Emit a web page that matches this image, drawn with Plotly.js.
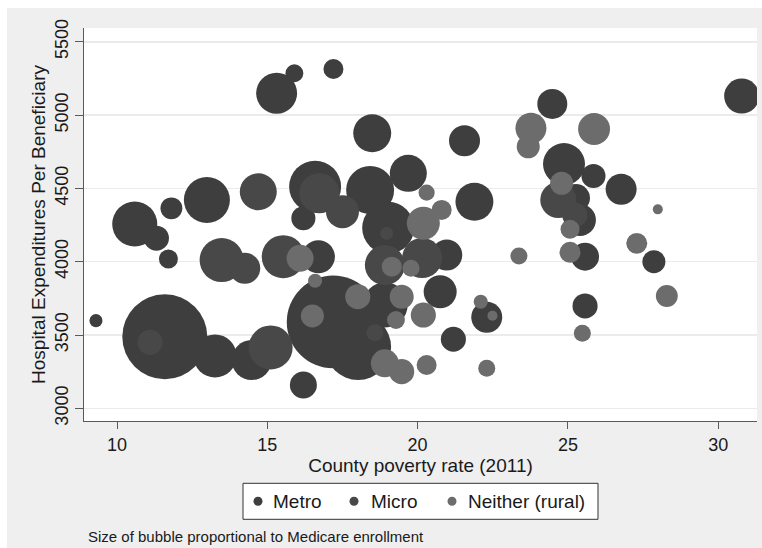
<!DOCTYPE html>
<html>
<head>
<meta charset="utf-8">
<script src="https://cdn.plot.ly/plotly-3.0.1.min.js"></script>
<style>
  html, body { margin: 0; padding: 0; background: #ffffff; }
  #chart { position: absolute; left: 7px; top: 8px; width: 755px; height: 540px; }
</style>
</head>
<body>
<div id="chart"></div>
<script>
// ---- Data ----
// County poverty rate (2011), hospital expenditures per beneficiary, Medicare enrollment (relative, thousands)
const categories = ["Metro", "Micro", "Neither (rural)"];

const metroX = [9.30, 11.59, 10.59, 11.31, 11.81, 11.71, 12.99, 13.26, 14.48, 15.31, 15.90, 17.20, 18.49, 21.56,
  16.59, 16.20, 18.42, 19.69, 21.89, 19.02, 16.70, 17.19, 18.02, 18.92, 16.20, 21.19, 20.75, 20.97, 22.30,
  24.48, 24.87, 25.85, 26.77, 25.40, 25.57, 27.86, 25.57, 30.78, 25.27];
const metroY = [3598, 3488, 4257, 4160, 4364, 4018, 4421, 3357, 3329, 5149, 5285, 5314, 4876, 4825,
  4512, 4296, 4489, 4603, 4409, 4231, 4034, 3589, 3418, 3705, 3159, 3471, 3795, 4046, 3621,
  5076, 4666, 4585, 4494, 4284, 4034, 4000, 3698, 5130, 4434];
const metroEnroll = [17, 723, 203, 63, 48, 36, 212, 185, 160, 168, 32, 40, 144, 96,
  270, 58, 230, 137, 144, 270, 109, 860, 436, 203, 73, 63, 109, 96, 96,
  90, 176, 58, 96, 102, 78, 53, 63, 123, 78];

const microX = [11.10, 15.11, 14.70, 13.48, 14.25, 15.53, 16.73, 17.50, 18.97, 18.91, 20.15, 18.58, 24.68, 25.23];
const microY = [3450, 3415, 4477, 4011, 3955, 4034, 4467, 4341, 4193, 3977, 4025, 3516, 4421, 4319];
const microEnroll = [63, 194, 137, 194, 96, 185, 160, 109, 17, 160, 160, 29, 130, 63];

const ruralX = [16.09, 16.59, 16.50, 18.01, 19.47, 19.28, 20.19, 19.14, 19.78, 20.30, 20.80, 20.19, 18.91, 19.47,
  20.30, 22.30, 22.10, 22.49, 23.77, 23.68, 25.87, 24.79, 25.07, 25.07, 27.99, 27.29, 23.37, 28.29, 25.48];
const ruralY = [4024, 3870, 3630, 3761, 3761, 3602, 3636, 3966, 3955, 4471, 4353, 4262, 3307, 3250,
  3295, 3273, 3727, 3632, 4910, 4784, 4905, 4535, 4221, 4064, 4357, 4125, 4039, 3766, 3512];
const ruralEnroll = [73, 20, 53, 63, 58, 32, 63, 40, 29, 26, 40, 109, 78, 63,
  40, 29, 20, 10, 96, 53, 102, 53, 36, 44, 10, 44, 29, 48, 29];

const xTicks = [10, 15, 20, 25, 30];
const yTicks = [3000, 3500, 4000, 4500, 5000, 5500];

// ---- Styling ----
const colors = ["#3e3e3e", "#484848", "#6c6c6c"];
const FONT = "Liberation Sans, Arial, sans-serif";
const TXT = "#1a1a1a";
const AX = "#5a5a5a";

function bubbleTrace(name, xs, ys, enroll, color) {
  return {
    type: "scatter", mode: "markers", name: name,
    x: xs, y: ys, showlegend: false, hoverinfo: "skip",
    marker: { size: enroll, sizemode: "area", sizeref: 0.2, color: color, opacity: 1, line: { width: 0 } }
  };
}

const traces = [
  bubbleTrace(categories[0], metroX, metroY, metroEnroll, colors[0]),
  bubbleTrace(categories[1], microX, microY, microEnroll, colors[1]),
  bubbleTrace(categories[2], ruralX, ruralY, ruralEnroll, colors[2])
];

// plot area inside the div: left 77, top 20, width 673, height 393
const PL = 77, PT = 20, PW = 673, PH = 393;
const px2x = v => (v - PL) / PW;
const py2y = v => (PT + PH - v) / PH;

// manual legend (box, dots, labels)
const legendDotX = [251, 347, 445];
const legendTextX = [264, 362, 459];
const legendY = py2y(493.3);
const shapes = [{
  type: "rect", xref: "paper", yref: "paper",
  x0: px2x(236), x1: px2x(591), y0: py2y(475.3), y1: py2y(511.3),
  line: { color: "#333333", width: 1 }, fillcolor: "#ffffff", layer: "above"
}];
const annotations = [];
categories.forEach((c, i) => {
  shapes.push({
    type: "circle", xref: "paper", yref: "paper",
    xsizemode: "pixel", ysizemode: "pixel",
    xanchor: px2x(legendDotX[i]), yanchor: legendY,
    x0: -4.5, x1: 4.5, y0: -4.5, y1: 4.5,
    fillcolor: colors[i], line: { width: 0 }, layer: "above"
  });
  annotations.push({
    xref: "paper", yref: "paper", x: px2x(legendTextX[i]), y: legendY,
    xanchor: "left", yanchor: "middle", showarrow: false, text: c,
    font: { family: FONT, size: 19, color: TXT }
  });
});
annotations.push({
  xref: "paper", yref: "paper", x: px2x(79), y: py2y(528),
  xanchor: "left", yanchor: "middle", showarrow: false,
  text: "Size of bubble proportional to Medicare enrollment",
  font: { family: FONT, size: 15, color: TXT }
});

const layout = {
  width: 755, height: 540,
  margin: { l: PL, r: 755 - PL - PW, t: PT, b: 540 - PT - PH, pad: 0 },
  paper_bgcolor: "#efefef", plot_bgcolor: "#ffffff",
  font: { family: FONT, color: TXT },
  showlegend: false,
  xaxis: {
    range: [8.902, 31.29], tickmode: "array", tickvals: xTicks,
    ticks: "outside", ticklen: 7, tickwidth: 1, tickcolor: AX,
    showline: true, linecolor: AX, linewidth: 1, mirror: false,
    showgrid: false, zeroline: false, automargin: false,
    tickfont: { family: FONT, size: 18, color: TXT },
    title: { text: "County poverty rate (2011)", font: { family: FONT, size: 19, color: TXT }, standoff: 3 }
  },
  yaxis: {
    range: [2913.4, 5594], tickmode: "array", tickvals: yTicks, tickangle: -90,
    ticks: "outside", ticklen: 8, tickwidth: 1, tickcolor: AX,
    showline: true, linecolor: AX, linewidth: 1, mirror: false,
    showgrid: true, gridcolor: "#ebebeb", gridwidth: 1.5, zeroline: false, automargin: false,
    tickfont: { family: FONT, size: 18, color: TXT },
    title: { text: "Hospital Expenditures Per Beneficiary", font: { family: FONT, size: 19, color: TXT }, standoff: 1 }
  },
  shapes: shapes,
  annotations: annotations
};

Plotly.newPlot("chart", traces, layout, { staticPlot: true, displayModeBar: false });
</script>
</body>
</html>
